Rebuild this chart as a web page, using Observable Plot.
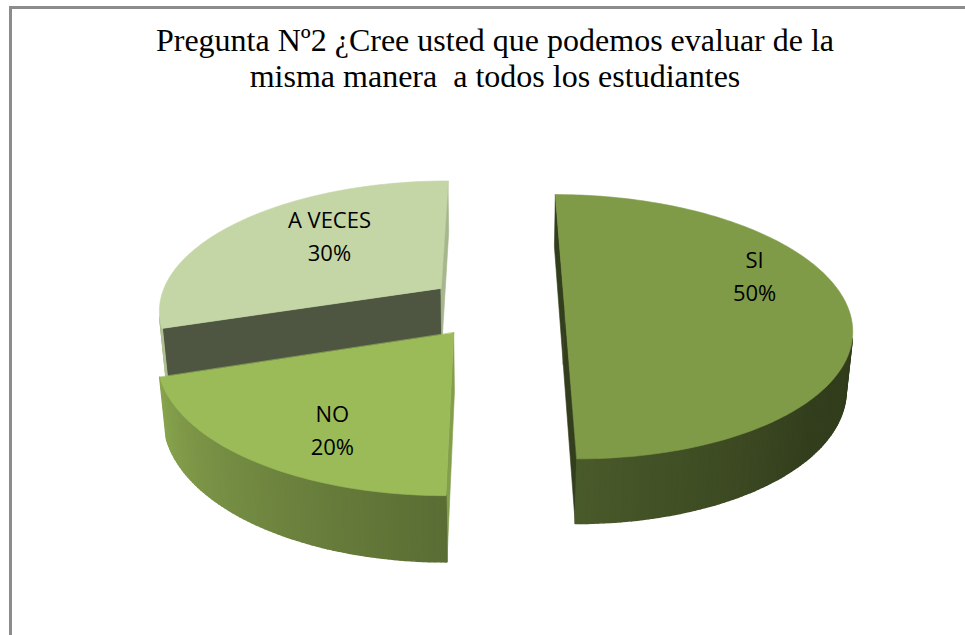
<!DOCTYPE html>
<html><head><meta charset="utf-8">
<script src="https://cdn.jsdelivr.net/npm/d3@7"></script>
<script src="https://cdn.jsdelivr.net/npm/@observablehq/plot@0.6"></script>
<style>
html,body{margin:0;padding:0;background:#fff;overflow:hidden;}
#wrap{position:relative;width:965px;height:635px;overflow:hidden;}
#chart{position:absolute;left:0;top:0;}
#frame{position:absolute;left:9px;top:6px;width:1000px;height:700px;border-left:3px solid #8c8c8c;border-top:3px solid #8c8c8c;box-sizing:border-box;pointer-events:none;}
#title{position:absolute;left:0;top:22px;width:990px;text-align:center;font-family:"Liberation Serif","Times New Roman",serif;font-size:32px;line-height:36px;color:#000;white-space:pre;}
</style></head><body>
<div id="wrap"><div id="chart"></div><div id="frame"></div><div id="title"></div></div>
<script>
// ---- data ----
const categories = ["SI", "NO", "A VECES"];
const percents = [50, 20, 30];
const titleLines = ["Pregunta Nº2 ¿Cree usted que podemos evaluar de la", "misma manera  a todos los estudiantes"];

// ---- style / layout ----
const palette = ["#7f9b48", "#9bbb59", "#c4d6a6"];
const W = 965, HT = 635;
const cx = 495, cy = 306, R = 283, EXP = 69, DEPTH = 66, D = 1646;
const elev = Math.asin(0.456);
const sinE = Math.sin(elev), cosE = Math.cos(elev);
const cam = [0, -D * cosE, D * sinE];
// label placement per slice: angular bias (deg) from the bisector and radius fraction
const labelAngleBias = [-18, -7, 8.6];
const labelFrac = [0.74, 0.74, 0.62];

document.getElementById("title").textContent = titleLines.join("\n");

function proj(u, v, h) {
  const z = D + v * cosE - h * sinE;
  const s = D / z;
  return [cx + u * s, cy - (v * sinE + h * cosE) * s];
}
function shade(color, b) {
  const c = d3.rgb(color);
  return d3.rgb(c.r * b, c.g * b, c.b * b).formatHex();
}
const wallB = d3.scaleLinear().domain([90, 130, 180, 270]).range([0.38, 0.4, 0.58, 0.95]).clamp(true);
function visible(n, p) {
  return n[0] * (cam[0] - p[0]) + n[1] * (cam[1] - p[1]) + n[2] * (cam[2] - p[2]) > 0;
}

let acc = 0;
const total = d3.sum(percents);
const slices = percents.map((p, i) => {
  const a0 = acc / total * 2 * Math.PI; acc += p;
  const a1 = acc / total * 2 * Math.PI;
  const mid = (a0 + a1) / 2;
  return {i, name: categories[i], pct: p, a0, a1, mid, au: EXP * Math.sin(mid), av: EXP * Math.cos(mid)};
});

const polys = [];
const order = slices.slice().sort((a, b) => b.av - a.av);
const step = Math.PI / 180;
for (const s of order) {
  const col = palette[s.i];
  const rim = (t, h) => proj(s.au + R * Math.sin(t), s.av + R * Math.cos(t), h);
  // radial faces
  const faces = [[s.a0, [-Math.cos(s.a0), Math.sin(s.a0), 0]], [s.a1, [Math.cos(s.a1), -Math.sin(s.a1), 0]]];
  for (const [t, n] of faces) {
    const p = [s.au + R / 2 * Math.sin(t), s.av + R / 2 * Math.cos(t), -DEPTH / 2];
    if (!visible(n, p)) continue;
    const b = 0.4 + 0.45 * Math.max(0, Math.min(1, n[0] + n[1]));
    polys.push({color: shade(col, b), w: 0.6, pts: [proj(s.au, s.av, 0), rim(t, 0), rim(t, -DEPTH), proj(s.au, s.av, -DEPTH)]});
  }
  // outer walls
  const nSeg = Math.ceil((s.a1 - s.a0) / step);
  for (let k = 0; k < nSeg; k++) {
    const ta = s.a0 + (s.a1 - s.a0) * k / nSeg, tb = s.a0 + (s.a1 - s.a0) * (k + 1) / nSeg, tm = (ta + tb) / 2;
    const n = [Math.sin(tm), Math.cos(tm), 0];
    const p = [s.au + R * Math.sin(tm), s.av + R * Math.cos(tm), -DEPTH / 2];
    if (!visible(n, p)) continue;
    polys.push({color: shade(col, wallB(tm * 180 / Math.PI)), w: 1.6, pts: [rim(ta, 0), rim(tb, 0), rim(tb, -DEPTH), rim(ta, -DEPTH)]});
  }
  // top face
  const top = [proj(s.au, s.av, 0)];
  for (let k = 0; k <= nSeg; k++) top.push(rim(s.a0 + (s.a1 - s.a0) * k / nSeg, 0));
  polys.push({color: col, w: 0.6, pts: top});
}
const rows = polys.flatMap((pg, id) => pg.pts.map(([x, y]) => ({id, x, y, color: pg.color, w: pg.w})));

const labels = slices.map(s => {
  const t = s.mid + labelAngleBias[s.i] * Math.PI / 180;
  const r = labelFrac[s.i] * R;
  const [x, y] = proj(s.au + r * Math.sin(t), s.av + r * Math.cos(t), 0);
  return {x, y, text: `${s.name}\n${s.pct}%`};
});

const chart = Plot.plot({
  width: W, height: HT,
  margin: 0,
  style: {background: "transparent"},
  x: {domain: [0, W], range: [0, W], axis: null},
  y: {domain: [0, HT], range: [0, HT], axis: null},
  color: {type: "identity"},
  marks: [
    Plot.line(rows, {x: "x", y: "y", z: "id", fill: "color", stroke: "color", strokeWidth: "w", curve: "linear-closed"}),
    Plot.text(labels, {x: "x", y: "y", text: "text", fontSize: 22, dy: -4, fontFamily: "Open Sans, sans-serif", lineHeight: 1.5, fill: "#000"})
  ]
});
document.getElementById("chart").appendChild(chart);
</script>
</body></html>
